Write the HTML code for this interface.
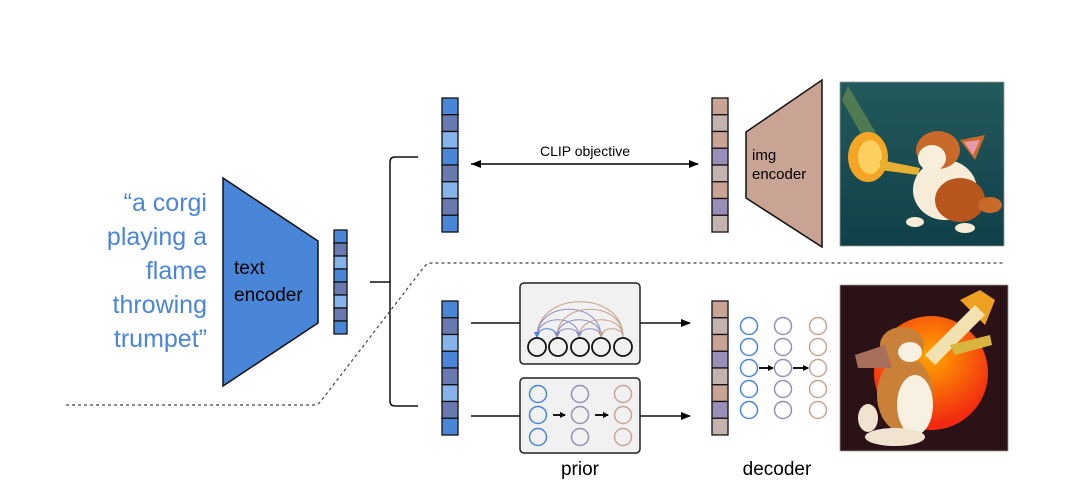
<!DOCTYPE html>
<html><head><meta charset="utf-8"><style>
html,body{margin:0;padding:0;background:#fff;}
svg{display:block;font-family:"Liberation Sans",sans-serif;}
</style></head><body>
<svg width="1071" height="489" viewBox="0 0 1071 489" xmlns="http://www.w3.org/2000/svg">
<defs>
<marker id="ah" markerWidth="10" markerHeight="8" refX="9" refY="4" orient="auto" markerUnits="userSpaceOnUse"><path d="M0,0 L10,4 L0,8 Z" fill="#000"/></marker>
<marker id="ahs" markerWidth="6" markerHeight="6" refX="5" refY="3" orient="auto" markerUnits="userSpaceOnUse"><path d="M0,0 L6,3 L0,6 Z" fill="#000"/></marker>
<marker id="at" markerWidth="6" markerHeight="6" refX="5" refY="3" orient="auto" markerUnits="userSpaceOnUse"><path d="M0,0 L6,3 L0,6 Z" fill="#c9a08a"/></marker>
<marker id="ap" markerWidth="6" markerHeight="6" refX="5" refY="3" orient="auto" markerUnits="userSpaceOnUse"><path d="M0,0 L6,3 L0,6 Z" fill="#8f8cc4"/></marker>
<marker id="ab" markerWidth="6" markerHeight="6" refX="5" refY="3" orient="auto" markerUnits="userSpaceOnUse"><path d="M0,0 L6,3 L0,6 Z" fill="#4a86d8"/></marker>
<radialGradient id="sun" cx="0.5" cy="0.35" r="0.6"><stop offset="0" stop-color="#ffa600"/><stop offset="1" stop-color="#f22a10"/></radialGradient>
<linearGradient id="teal" x1="0" y1="0" x2="0" y2="1"><stop offset="0" stop-color="#245a5c"/><stop offset="1" stop-color="#0f4048"/></linearGradient>
</defs>

<!-- prompt text -->
<g fill="#4a86d8" font-size="25" text-anchor="end">
<text x="207" y="211">“a corgi</text>
<text x="207" y="245">playing a</text>
<text x="207" y="279">flame</text>
<text x="207" y="313">throwing</text>
<text x="207" y="347">trumpet”</text>
</g>

<!-- text encoder -->
<polygon points="223,178 318,241 318,323 223,386" fill="#4a86d8" stroke="#111" stroke-width="1.5"/>
<text x="234" y="274" font-size="19" fill="#000">text</text>
<text x="234" y="301" font-size="19" fill="#000">encoder</text>

<!-- small bar -->
<g stroke="#111" stroke-width="1.3">
<rect x="334" y="230" width="13" height="13" fill="#4a86d8"/>
<rect x="334" y="243" width="13" height="13" fill="#6a7ab0"/>
<rect x="334" y="256" width="13" height="13" fill="#86b4ea"/>
<rect x="334" y="269" width="13" height="13" fill="#4a86d8"/>
<rect x="334" y="282" width="13" height="13" fill="#6a7ab0"/>
<rect x="334" y="295" width="13" height="13" fill="#86b4ea"/>
<rect x="334" y="308" width="13" height="13" fill="#6a7ab0"/>
<rect x="334" y="321" width="13" height="13" fill="#4a86d8"/>
</g>

<!-- bracket -->
<path d="M370,282 H390" stroke="#111" stroke-width="1.5" fill="none"/>
<path d="M418,157 H395 Q390,157 390,162 V401 Q390,406 395,406 H418" stroke="#111" stroke-width="1.5" fill="none"/>

<!-- dotted -->
<path d="M66,405 H314 Q318,405 321,401 L424,267 Q427,263 432,263 H1005" stroke="#444" stroke-width="1.2" stroke-dasharray="3,3" fill="none"/>

<!-- left bars -->
<g stroke="#111" stroke-width="1.3">
<rect x="442" y="98" width="16" height="16.75" fill="#4a86d8"/>
<rect x="442" y="114.75" width="16" height="16.75" fill="#6a7ab0"/>
<rect x="442" y="131.5" width="16" height="16.75" fill="#86b4ea"/>
<rect x="442" y="148.25" width="16" height="16.75" fill="#4a86d8"/>
<rect x="442" y="165" width="16" height="16.75" fill="#6a7ab0"/>
<rect x="442" y="181.75" width="16" height="16.75" fill="#86b4ea"/>
<rect x="442" y="198.5" width="16" height="16.75" fill="#6a7ab0"/>
<rect x="442" y="215.25" width="16" height="16.75" fill="#4a86d8"/>

<rect x="442" y="301" width="16" height="16.75" fill="#4a86d8"/>
<rect x="442" y="317.75" width="16" height="16.75" fill="#6a7ab0"/>
<rect x="442" y="334.5" width="16" height="16.75" fill="#86b4ea"/>
<rect x="442" y="351.25" width="16" height="16.75" fill="#4a86d8"/>
<rect x="442" y="368" width="16" height="16.75" fill="#6a7ab0"/>
<rect x="442" y="384.75" width="16" height="16.75" fill="#86b4ea"/>
<rect x="442" y="401.5" width="16" height="16.75" fill="#6a7ab0"/>
<rect x="442" y="418.25" width="16" height="16.75" fill="#4a86d8"/>
</g>

<!-- right bars -->
<g stroke="#111" stroke-width="1.3">
<rect x="712" y="98" width="16" height="16.75" fill="#c9a393"/>
<rect x="712" y="114.75" width="16" height="16.75" fill="#c4b2ae"/>
<rect x="712" y="131.5" width="16" height="16.75" fill="#c9a393"/>
<rect x="712" y="148.25" width="16" height="16.75" fill="#9a8db8"/>
<rect x="712" y="165" width="16" height="16.75" fill="#c4b2ae"/>
<rect x="712" y="181.75" width="16" height="16.75" fill="#c9a393"/>
<rect x="712" y="198.5" width="16" height="16.75" fill="#9a8db8"/>
<rect x="712" y="215.25" width="16" height="16.75" fill="#c4b2ae"/>

<rect x="712" y="301" width="16" height="16.75" fill="#c9a393"/>
<rect x="712" y="317.75" width="16" height="16.75" fill="#c4b2ae"/>
<rect x="712" y="334.5" width="16" height="16.75" fill="#c9a393"/>
<rect x="712" y="351.25" width="16" height="16.75" fill="#9a8db8"/>
<rect x="712" y="368" width="16" height="16.75" fill="#c4b2ae"/>
<rect x="712" y="384.75" width="16" height="16.75" fill="#c9a393"/>
<rect x="712" y="401.5" width="16" height="16.75" fill="#9a8db8"/>
<rect x="712" y="418.25" width="16" height="16.75" fill="#c4b2ae"/>
</g>

<!-- CLIP arrow -->
<line x1="471" y1="164" x2="698" y2="164" stroke="#000" stroke-width="1.5" marker-end="url(#ah)" marker-start="url(#ahrev)"/>
<path d="M471,164 L481,160 L481,168 Z" fill="#000"/>
<text x="585" y="156" font-size="14" text-anchor="middle" fill="#000">CLIP objective</text>

<!-- img encoder -->
<polygon points="746,132 822,80 822,247 746,198" fill="#c9a393" stroke="#111" stroke-width="1.5"/>
<text x="752" y="160" font-size="15" fill="#000">img</text>
<text x="752" y="179" font-size="15" fill="#000">encoder</text>

<!-- prior connections -->
<line x1="471" y1="323" x2="520" y2="323" stroke="#111" stroke-width="1.5"/>
<line x1="640" y1="323" x2="690" y2="323" stroke="#111" stroke-width="1.5" marker-end="url(#ah)"/>
<line x1="471" y1="416" x2="520" y2="416" stroke="#111" stroke-width="1.5"/>
<line x1="640" y1="416" x2="690" y2="416" stroke="#111" stroke-width="1.5" marker-end="url(#ah)"/>

<!-- prior box 1 -->
<rect x="520" y="283" width="120" height="81" rx="4" fill="#f1f1f1" stroke="#222" stroke-width="1.5"/>
<g fill="none" stroke-width="1">
<path d="M623,337 C623,290 537,290 537,337" stroke="#c9a08a" marker-end="url(#at)"/>
<path d="M601,337 C601,300 537,300 537,337" stroke="#8f8cc4" marker-end="url(#ap)"/>
<path d="M623,337 C623,300 557,300 557,337" stroke="#c9a08a" marker-end="url(#at)"/>
<path d="M579,337 C579,314 537,314 537,337" stroke="#8f8cc4" marker-end="url(#ap)"/>
<path d="M601,337 C601,314 557,314 557,337" stroke="#8f8cc4" marker-end="url(#ap)"/>
<path d="M623,337 C623,314 579,314 579,337" stroke="#c9a08a" marker-end="url(#at)"/>
<path d="M557,337 C557,326 537,326 537,337" stroke="#4a86d8" marker-end="url(#ab)"/>
<path d="M579,337 C579,326 557,326 557,337" stroke="#8f8cc4" marker-end="url(#ap)"/>
<path d="M601,337 C601,326 579,326 579,337" stroke="#8f8cc4" marker-end="url(#ap)"/>
<path d="M623,337 C623,326 601,326 601,337" stroke="#c9a08a" marker-end="url(#at)"/>
</g>
<g fill="none" stroke="#111" stroke-width="1.8">
<circle cx="537" cy="347" r="9"/><circle cx="558" cy="347" r="9"/><circle cx="580" cy="347" r="9"/><circle cx="601" cy="347" r="9"/><circle cx="623" cy="347" r="9"/>
</g>

<!-- prior box 2 -->
<rect x="520" y="378" width="120" height="75" rx="4" fill="#f1f1f1" stroke="#222" stroke-width="1.5"/>
<g fill="none" stroke-width="1.5">
<g stroke="#4a86d8"><circle cx="538" cy="394" r="8.5"/><circle cx="538" cy="415" r="8.5"/><circle cx="538" cy="437" r="8.5"/></g>
<g stroke="#9a8db8"><circle cx="580" cy="394" r="8.5"/><circle cx="580" cy="415" r="8.5"/><circle cx="580" cy="437" r="8.5"/></g>
<g stroke="#c9a393"><circle cx="623" cy="394" r="8.5"/><circle cx="623" cy="415" r="8.5"/><circle cx="623" cy="437" r="8.5"/></g>
</g>
<line x1="553" y1="415" x2="565" y2="415" stroke="#000" stroke-width="1.8" marker-end="url(#ahs)"/>
<line x1="595" y1="415" x2="608" y2="415" stroke="#000" stroke-width="1.8" marker-end="url(#ahs)"/>

<!-- decoder circles -->
<g fill="none" stroke-width="1.5">
<g stroke="#4a86d8"><circle cx="749" cy="326" r="8.5"/><circle cx="749" cy="347" r="8.5"/><circle cx="749" cy="368" r="8.5"/><circle cx="749" cy="389" r="8.5"/><circle cx="749" cy="410" r="8.5"/></g>
<g stroke="#9a8db8"><circle cx="783" cy="326" r="8.5"/><circle cx="783" cy="347" r="8.5"/><circle cx="783" cy="368" r="8.5"/><circle cx="783" cy="389" r="8.5"/><circle cx="783" cy="410" r="8.5"/></g>
<g stroke="#c9a393"><circle cx="818" cy="326" r="8.5"/><circle cx="818" cy="347" r="8.5"/><circle cx="818" cy="368" r="8.5"/><circle cx="818" cy="389" r="8.5"/><circle cx="818" cy="410" r="8.5"/></g>
</g>
<line x1="759" y1="368" x2="773" y2="368" stroke="#000" stroke-width="1.8" marker-end="url(#ahs)"/>
<line x1="793" y1="368" x2="808" y2="368" stroke="#000" stroke-width="1.8" marker-end="url(#ahs)"/>

<text x="580" y="475" font-size="19" text-anchor="middle" fill="#000">prior</text>
<text x="777" y="475" font-size="19" text-anchor="middle" fill="#000">decoder</text>

<!-- top image -->
<rect x="840" y="82" width="164" height="164" fill="url(#teal)"/>
<path d="M848,86 L880,140 L870,150 L842,100 Z" fill="#7fa04a" opacity="0.5"/>
<ellipse cx="868" cy="157" rx="20" ry="25" fill="#f5a524"/>
<ellipse cx="870" cy="157" rx="12" ry="17" fill="#fcd060"/>
<path d="M880,160 L920,168 L918,175 L880,170 Z" fill="#e8b030"/>
<ellipse cx="945" cy="190" rx="32" ry="30" fill="#f6ecd8"/>
<ellipse cx="960" cy="200" rx="25" ry="22" fill="#b8561e"/>
<ellipse cx="938" cy="150" rx="22" ry="19" fill="#c96a2a"/>
<ellipse cx="932" cy="158" rx="14" ry="13" fill="#f8eedc"/>
<path d="M960,140 L985,135 L975,160 Z" fill="#c96a2a"/>
<path d="M964,142 L980,140 L973,155 Z" fill="#e89aa8"/>
<ellipse cx="990" cy="205" rx="12" ry="8" fill="#c96a2a"/>
<ellipse cx="915" cy="222" rx="9" ry="5" fill="#f6ecd8"/>
<ellipse cx="965" cy="228" rx="10" ry="5" fill="#f6ecd8"/>
<rect x="840" y="82" width="164" height="164" fill="none" stroke="#999" stroke-width="0.8"/>

<!-- bottom image -->
<rect x="840" y="285" width="168" height="166" fill="#2a1216"/>
<circle cx="931" cy="373" r="57" fill="url(#sun)"/>
<path d="M960,300 L980,290 L995,300 L985,325 Z" fill="#f0a020"/>
<path d="M925,355 L975,305 L985,315 L935,365 Z" fill="#f1e2b0"/>
<path d="M950,345 L990,335 L992,345 L955,355 Z" fill="#d8b440"/>
<ellipse cx="905" cy="395" rx="28" ry="38" fill="#c98038"/>
<ellipse cx="915" cy="405" rx="18" ry="30" fill="#f8f0e0"/>
<ellipse cx="902" cy="345" rx="22" ry="18" fill="#c98038"/>
<ellipse cx="910" cy="352" rx="12" ry="10" fill="#f8f0e0"/>
<path d="M855,355 L885,345 L892,368 L858,368 Z" fill="#a8705a"/>
<ellipse cx="895" cy="437" rx="30" ry="9" fill="#f0e4d0"/>
<ellipse cx="868" cy="418" rx="10" ry="14" fill="#f0e4d0"/>
<rect x="840" y="285" width="168" height="166" fill="none" stroke="#999" stroke-width="0.8"/>
</svg>
</body></html>
